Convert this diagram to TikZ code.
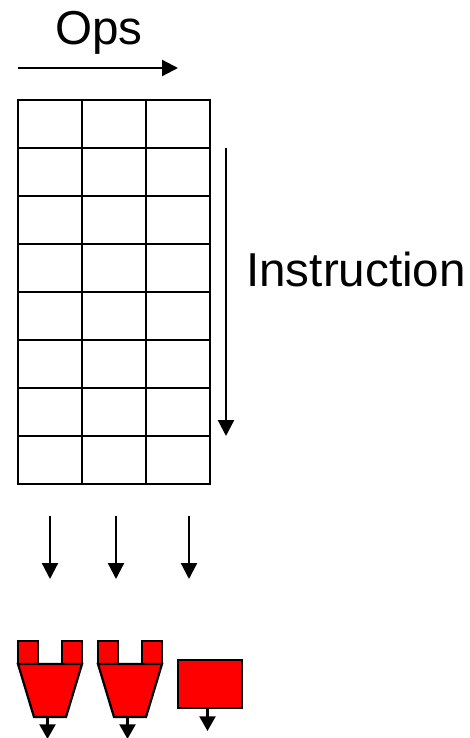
\documentclass[tikz,border=0pt]{standalone}
\usepackage{fontspec}
\setmainfont{Liberation Sans}
\usetikzlibrary{arrows.meta}
\tikzset{
  gridcell/.style={draw=black,line width=1.7pt,minimum width=48pt,minimum height=36pt,inner sep=0pt,outer sep=0pt,anchor=north west},
  flowarrow/.style={draw=black,line width=1.7pt,-{Triangle[length=12pt,width=12pt]}},
  smallarrow/.style={draw=black,line width=1.7pt,-{Triangle[length=11pt,width=12pt]}},
  redpart/.style={draw=black,fill=red,line width=1.7pt,line join=miter},
  bigtext/.style={font=\fontsize{35.7pt}{35.7pt}\selectfont,inner sep=0pt,text=black}
}
\begin{document}
\begin{tikzpicture}[x=0.75pt,y=-0.75pt]
\useasboundingbox (0,0) rectangle (469,738);
% text
\node[bigtext,anchor=base] (ops) at (99,44.5) {Ops};
\node[bigtext,anchor=base west] (instr) at (246,286) {Instruction};
% grid
\foreach \r in {0,...,7}{
  \foreach \c in {0,1,2}{
    \node[gridcell] (cell\r\c) at ({18+64*\c},{100+48*\r}) {};
  }
}
% main arrows
\coordinate (opsA) at (18,68); \coordinate (opsB) at (178,68);
\draw[flowarrow] (opsA) -- (opsB);
\coordinate (insA) at (226,148); \coordinate (insB) at (226,436);
\draw[flowarrow] (insA) -- (insB);
\foreach \n/\x in {a/50,b/116,c/189}{
  \coordinate (d\n A) at (\x,516); \coordinate (d\n B) at (\x,579);
  \draw[flowarrow] (d\n A) -- (d\n B);
}
% units
\foreach \n/\d in {u/0,v/80}{
  \coordinate (\n O) at ({47.5+\d},717);
  \coordinate (\n E) at ({47.5+\d},739);
  \draw[smallarrow] (\n O) -- (\n E);
  \draw[redpart] ({18+\d},641) rectangle ({38+\d},664);
  \draw[redpart] ({62+\d},641) rectangle ({82+\d},664);
  \draw[redpart] ({18+\d},664) -- ({82+\d},664) -- ({66+\d},717) -- ({34+\d},717) -- cycle;
}
\node[redpart,minimum width=48pt,minimum height=36pt,inner sep=0pt,outer sep=0pt,anchor=north west] (reg) at (178,660) {};
\coordinate (regE) at (207.5,731);
\coordinate (regO) at (207.5,708);
\draw[smallarrow] (regO) -- (regE);
\end{tikzpicture}
\end{document}
